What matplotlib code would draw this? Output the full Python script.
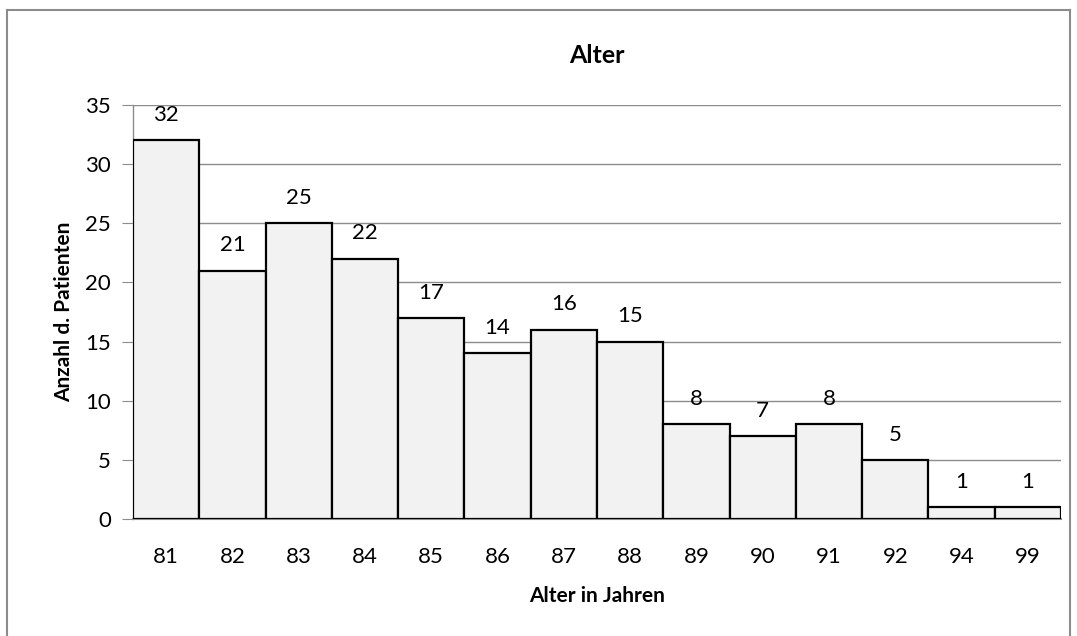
import matplotlib
matplotlib.use("Agg")
import matplotlib.pyplot as plt
from matplotlib.lines import Line2D

categories = ["81", "82", "83", "84", "85", "86", "87", "88", "89", "90", "91", "92", "94", "99"]
counts = [32, 21, 25, 22, 17, 14, 16, 15, 8, 7, 8, 5, 1, 1]
yticks = [0, 5, 10, 15, 20, 25, 30, 35]

plt.rcParams['font.family'] = ['Lato', 'DejaVu Sans']

W, H = 1077, 636
fig = plt.figure(figsize=(W / 100, H / 100), dpi=100)
ax = fig.add_axes([133 / W, 1 - 519 / H, (1061 - 133) / W, (519 - 105) / H])

x = list(range(len(categories)))
ax.bar(x, counts, width=1.0, color="#f2f2f2", edgecolor="black", linewidth=1.6, zorder=3)
for xi, v in zip(x, counts):
    ax.annotate(str(v), (xi, v), xytext=(0, 11), textcoords="offset points",
                ha="center", va="bottom", fontsize=16, color="black", zorder=4)

ax.set_xlim(-0.5, len(categories) - 0.5)
ax.set_ylim(0, 35)
ax.set_yticks(yticks)
ax.set_xticks(x)
ax.set_xticklabels(categories)
ax.yaxis.grid(True, color="#8c8c8c", linewidth=1.0, zorder=0)
for s in ["top", "right"]:
    ax.spines[s].set_visible(False)
ax.spines["left"].set_color("#8c8c8c")
ax.spines["bottom"].set_color("#8c8c8c")
ax.spines["left"].set_linewidth(1.0)
ax.spines["bottom"].set_linewidth(1.5)
ax.tick_params(axis="y", length=8, color="#8c8c8c", labelsize=16, pad=8)
ax.tick_params(axis="x", length=0, labelsize=16, pad=20)

ax.set_title("Alter", fontsize=18, fontweight="bold", pad=30)
ax.set_xlabel("Alter in Jahren", fontsize=15, fontweight="bold", labelpad=14)
ax.set_ylabel("Anzahl d. Patienten", fontsize=15, fontweight="bold", labelpad=8)

# outer chart border
fig.add_artist(Line2D([7 / W, 7 / W], [1 - 10 / H, -0.1], color="#8c8c8c", lw=1.5, transform=fig.transFigure))
fig.add_artist(Line2D([7 / W, 1070 / W], [1 - 10 / H, 1 - 10 / H], color="#8c8c8c", lw=1.5, transform=fig.transFigure))
fig.add_artist(Line2D([1070 / W, 1070 / W], [1 - 10 / H, -0.1], color="#8c8c8c", lw=1.5, transform=fig.transFigure))

fig.savefig("out.png", dpi=100, facecolor="white")
